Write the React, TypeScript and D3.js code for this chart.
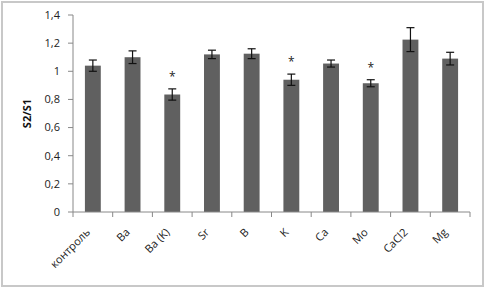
import React from 'react'
import * as d3 from 'd3'

const categories = ['контроль', 'Ba', 'Ba (K)', 'Sr', 'B', 'K', 'Ca', 'Mo', 'CaCl2', 'Mg']
const values = [1.04, 1.10, 0.835, 1.12, 1.125, 0.94, 1.055, 0.915, 1.225, 1.09]
const errors = [0.04, 0.045, 0.04, 0.03, 0.035, 0.04, 0.025, 0.025, 0.085, 0.045]
const marked = [false, false, true, false, false, true, false, true, false, false]
const yTicks = [0, 0.2, 0.4, 0.6, 0.8, 1, 1.2, 1.4]

const width = 485
const height = 288
const font = 'Open Sans, sans-serif'

export default function App() {
  const x = d3.scaleBand().domain(categories).range([73, 470]).paddingInner(0.6).paddingOuter(0.3)
  const xb = d3.scaleBand().domain(categories).range([73, 470])
  const y = d3.scaleLinear().domain([0, 1.4]).range([212, 15])
  const fmt = (v: number) => String(+v.toFixed(1)).replace('.', ',')

  return (
    <svg width={width} height={height} style={{position: 'absolute', left: 0, top: 0}} fontFamily={font}>
      <rect x={0} y={0} width={width} height={height} fill="#fff" />
      <rect x={2} y={2} width={width - 4} height={height - 4} fill="none" stroke="#c8c8c8" strokeWidth={2} />

      {/* y axis */}
      <line x1={73} x2={73} y1={y(1.4)} y2={y(0)} stroke="#888" />
      {yTicks.map(t => (
        <g key={t}>
          <line x1={68} x2={73} y1={y(t)} y2={y(t)} stroke="#888" />
          <text x={60} y={y(t)} dy="0.35em" textAnchor="end" fontSize={11} fill="#222">{fmt(t)}</text>
        </g>
      ))}
      <text transform={`translate(31,${y(0.7)}) rotate(-90)`} textAnchor="middle" fontSize={11} fontWeight="bold" fill="#111">S2/S1</text>

      {/* bars */}
      {categories.map((c, i) => {
        const cx = x(c)! + x.bandwidth() / 2
        return (
          <g key={c}>
            <rect x={x(c)} y={y(values[i])} width={x.bandwidth()} height={y(0) - y(values[i])} fill="#606060" />
            <line x1={cx} x2={cx} y1={y(values[i] + errors[i])} y2={y(values[i] - errors[i])} stroke="#111" strokeWidth={1.2} />
            <line x1={cx - 4} x2={cx + 4} y1={y(values[i] + errors[i])} y2={y(values[i] + errors[i])} stroke="#111" strokeWidth={1.2} />
            <line x1={cx - 4} x2={cx + 4} y1={y(values[i] - errors[i])} y2={y(values[i] - errors[i])} stroke="#111" strokeWidth={1.2} />
            {marked[i] && (
              <text x={cx} y={y(values[i] + errors[i]) - 8} textAnchor="middle" fontSize={12} fill="#222">*</text>
            )}
          </g>
        )
      })}

      {/* x axis */}
      <line x1={73} x2={470} y1={y(0)} y2={y(0)} stroke="#888" />
      {[...categories.map(c => xb(c)!), 470].map((p, i) => (
        <line key={i} x1={p} x2={p} y1={y(0)} y2={y(0) + 5} stroke="#888" />
      ))}
      {categories.map(c => {
        const cx = x(c)! + x.bandwidth() / 2
        return (
          <text key={c} transform={`translate(${cx - 2},${y(0) + 21}) rotate(-45)`} textAnchor="end" fontSize={11} fill="#222">{c}</text>
        )
      })}
    </svg>
  )
}
